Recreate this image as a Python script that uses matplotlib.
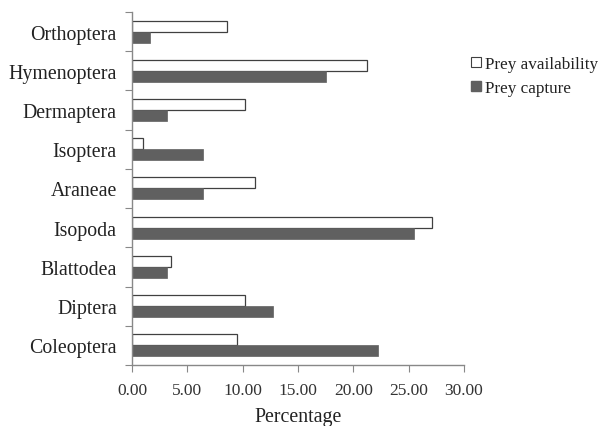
import numpy as np
import matplotlib.pyplot as plt
from matplotlib.patches import Patch

orders = ['Orthoptera', 'Hymenoptera', 'Dermaptera', 'Isoptera', 'Araneae',
          'Isopoda', 'Blattodea', 'Diptera', 'Coleoptera']
prey_availability = [8.55, 21.2, 10.2, 0.96, 11.08, 27.07, 3.5, 10.2, 9.46]
prey_capture = [1.6, 17.5, 3.19, 6.38, 6.38, 25.5, 3.19, 12.7, 22.25]
x_ticks = [0, 5, 10, 15, 20, 25, 30]

plt.rcParams['font.family'] = ['Liberation Serif', 'DejaVu Serif']

fig = plt.figure(figsize=(5.98, 4.27), dpi=100)
ax = fig.add_axes([0.2207, 0.1429, 0.5552, 0.8267])

y = np.arange(len(orders))
h = 0.28
ax.barh(y - h / 2, prey_availability, height=h, color='white',
        edgecolor='#404040', linewidth=0.9, label='Prey availability')
ax.barh(y + h / 2, prey_capture, height=h, color='#606060',
        edgecolor='#606060', linewidth=0.5, label='Prey capture')

ax.set_ylim(len(orders) - 0.5, -0.5)
ax.set_xlim(0, 30)
ax.set_xticks(x_ticks)
ax.set_xticklabels(['%.2f' % t for t in x_ticks], fontsize=12.5, color='#333333')
ax.set_yticks(np.arange(-0.5, len(orders), 1), minor=False)
ax.set_yticklabels([])
ax.set_yticks(y, minor=True)
ax.set_yticklabels(orders, minor=True, fontsize=14.3, color='#222222')
ax.tick_params(axis='y', which='minor', length=0, pad=11)
ax.tick_params(axis='y', which='major', length=5, color='#888888')
ax.tick_params(axis='x', length=5, color='#888888', pad=7)

for s in ['top', 'right']:
    ax.spines[s].set_visible(False)
for s in ['left', 'bottom']:
    ax.spines[s].set_color('#888888')
    ax.spines[s].set_linewidth(1.0)

ax.set_xlabel('Percentage', fontsize=14.3, color='#222222', labelpad=7)

handles = [Patch(facecolor='white', edgecolor='#404040', linewidth=0.8),
           Patch(facecolor='#606060', edgecolor='#606060')]
fig.legend(handles, ['Prey availability', 'Prey capture'], loc='upper left',
           bbox_to_anchor=(0.768, 0.895), frameon=False, fontsize=12.3,
           handlelength=0.55, handleheight=0.55, handletextpad=0.25,
           labelspacing=0.5, labelcolor='#222222', borderpad=0.2)

fig.savefig('out.png', dpi=100)
